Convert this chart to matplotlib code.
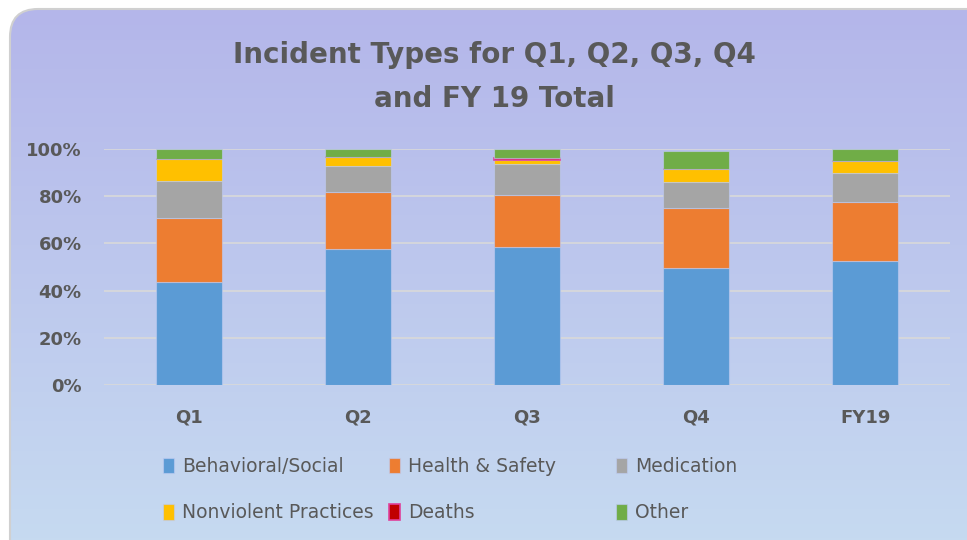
import numpy as np
import matplotlib
matplotlib.use("Agg")
import matplotlib.pyplot as plt
from matplotlib.patches import FancyBboxPatch

# ---- data ----
categories = ["Q1", "Q2", "Q3", "Q4", "FY19"]
series_names = ["Behavioral/Social", "Health & Safety", "Medication",
                "Nonviolent Practices", "Deaths", "Other"]
behavioral = [43.8, 57.5, 58.5, 49.6, 52.7]
health_safety = [27.0, 24.3, 22.1, 25.3, 24.8]
medication = [15.6, 11.0, 13.2, 11.0, 12.2]
nonviolent = [9.5, 3.7, 1.4, 5.8, 5.2]
deaths = [0.0, 0.0, 0.8, 0.0, 0.0]
other = [4.1, 3.5, 3.8, 7.5, 5.1]
y_ticks = [0, 20, 40, 60, 80, 100]
y_tick_labels = ["0%", "20%", "40%", "60%", "80%", "100%"]
title_lines = ["Incident Types for Q1, Q2, Q3, Q4", "and FY 19 Total"]

colors = ["#5B9BD5", "#ED7D31", "#A5A5A5", "#FFC000", "#C00000", "#70AD47"]
text_color = "#595959"

W, H = 967, 540
fig = plt.figure(figsize=(W / 100, H / 100), dpi=100)
fig.patch.set_facecolor("white")

# ---- background rounded box with gradient ----
bg = fig.add_axes([0, 0, 1, 1])
bg.set_xlim(0, W)
bg.set_ylim(H, 0)
bg.axis("off")
top_c = np.array([180, 182, 234]) / 255
bot_c = np.array([199, 220, 241]) / 255
t = np.linspace(0, 1, 256)[:, None]
grad = (top_c[None, :] * (1 - t) + bot_c[None, :] * t)[:, None, :]
box = FancyBboxPatch((10, 9), 985, 560, boxstyle="round,pad=0,rounding_size=28",
                     facecolor="none", edgecolor="#D0D0D0", lw=1.5,
                     transform=bg.transData, zorder=2)
im = bg.imshow(grad, extent=[10, 995, 569, 9], aspect="auto", zorder=1)
bg.add_patch(box)
im.set_clip_path(box)

# ---- main axes ----
left, right = 104 / W, 950 / W
bottom, top = 1 - 385 / H, 1 - 149 / H
ax = fig.add_axes([left, bottom, right - left, top - bottom])
ax.set_facecolor("none")
x = np.arange(len(categories))
series = [behavioral, health_safety, medication, nonviolent, deaths, other]
base = np.zeros(len(categories))
handles = []
for name, vals, col in zip(series_names, series, colors):
    vals = np.array(vals)
    ec = "#E0409A" if name == "Deaths" else (0.75, 0.8, 0.95, 0.6)
    lw = 1.2 if name == "Deaths" else 0.8
    b = ax.bar(x, vals, 0.39, bottom=base, color=col, edgecolor=ec, linewidth=lw,
               zorder=3, label=name)
    handles.append(b)
    base = base + vals

ax.set_xlim(-0.5, len(categories) - 0.5)
ax.set_ylim(0, 100)
ax.set_yticks(y_ticks)
ax.set_yticklabels(y_tick_labels)
ax.set_xticks(x)
ax.set_xticklabels(categories)
ax.yaxis.grid(True, color="#D9D9D9", lw=1.2, zorder=0)
ax.set_axisbelow(True)
for s in ax.spines.values():
    s.set_visible(False)
ax.tick_params(axis="both", length=0, colors=text_color)
ax.tick_params(axis="y", pad=16)
ax.tick_params(axis="x", pad=17)
for lbl in ax.get_yticklabels() + ax.get_xticklabels():
    lbl.set_fontsize(13)
    lbl.set_fontweight("bold")
    lbl.set_color(text_color)

# ---- title ----
for line, ybase in zip(title_lines, [63, 107]):
    fig.text(494 / W, 1 - ybase / H, line, ha="center", va="baseline",
             fontsize=20, fontweight="bold", color=text_color)

# ---- legend (three columns placed like the reference) ----
col_x = [163, 389, 616]
col_items = [[0, 3], [1, 4], [2, 5]]
for cx, items in zip(col_x, col_items):
    leg = fig.legend([handles[i] for i in items], [series_names[i] for i in items],
                     loc="upper left", bbox_to_anchor=(cx / W, 1 - 457 / H),
                     frameon=False, borderpad=0, borderaxespad=0,
                     fontsize=13.5, handlelength=0.6, handleheight=0.9,
                     handletextpad=0.4, labelspacing=1.45)
    for txt in leg.get_texts():
        txt.set_color(text_color)

fig.savefig("out.png", dpi=100)
